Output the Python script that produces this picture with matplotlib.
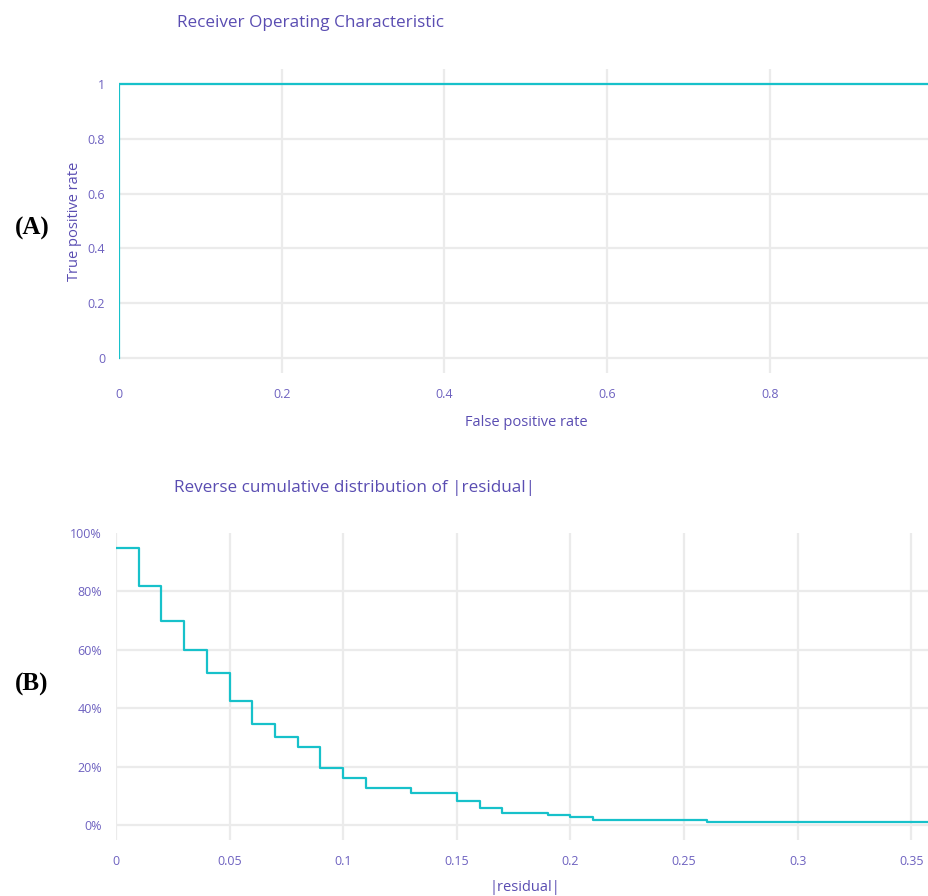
import matplotlib
matplotlib.use("Agg")
import matplotlib.pyplot as plt

W, H = 929, 896
plt.rcParams['font.family'] = ['Open Sans', 'DejaVu Sans']

# ---------------- data ----------------
roc_fpr = [0.0, 0.0, 1.0]
roc_tpr = [0.0, 1.0, 1.0]
roc_xticks = [0, 0.2, 0.4, 0.6, 0.8]
roc_yticks = [0, 0.2, 0.4, 0.6, 0.8, 1.0]
roc_ytick_labels = ["0", "0.2", "0.4", "0.6", "0.8", "1"]
roc_xtick_labels = ["0", "0.2", "0.4", "0.6", "0.8"]

resid_x = [0.0, 0.01, 0.02, 0.03, 0.04, 0.05, 0.06, 0.07, 0.08, 0.09, 0.10,
           0.11, 0.13, 0.15, 0.16, 0.17, 0.19, 0.20, 0.21, 0.26, 0.40]
resid_frac = [0.95, 0.82, 0.70, 0.60, 0.52, 0.425, 0.345, 0.30, 0.268, 0.195, 0.162,
              0.127, 0.11, 0.083, 0.058, 0.042, 0.035, 0.028, 0.018, 0.010, 0.010]
resid_xticks = [0, 0.05, 0.1, 0.15, 0.2, 0.25, 0.3, 0.35]
resid_xtick_labels = ["0", "0.05", "0.1", "0.15", "0.2", "0.25", "0.3", "0.35"]
resid_yticks = [0, 0.2, 0.4, 0.6, 0.8, 1.0]
resid_ytick_labels = ["0%", "20%", "40%", "60%", "80%", "100%"]

# ---------------- style ----------------
TEXT = "#5a4db2"
TICK = "#6e62c0"
LINE = "#17c1ca"
GRID = "#ebebeb"

fig = plt.figure(figsize=(W / 100, H / 100), dpi=100)

def ax_rect(l, t, r, b):
    return [l / W, 1 - b / H, (r - l) / W, (b - t) / H]

def style(ax):
    for s in ax.spines.values():
        s.set_visible(False)
    ax.tick_params(length=0, colors=TICK, labelsize=9)
    ax.grid(True, color=GRID, linewidth=1.6)
    ax.set_axisbelow(True)

# Panel A
axA = fig.add_axes(ax_rect(119, 69, 929, 373))
axA.plot(roc_fpr, roc_tpr, color=LINE, linewidth=1.6, zorder=3)
axA.set_xlim(0, 0.9954)
axA.set_ylim(-0.0547, 1.0547)
axA.set_xticks(roc_xticks)
axA.set_xticklabels(roc_xtick_labels)
axA.set_yticks(roc_yticks)
axA.set_yticklabels(roc_ytick_labels)
style(axA)
axA.tick_params(axis='x', pad=11)
axA.tick_params(axis='y', pad=10)
axA.xaxis.get_gridlines()[0].set_visible(False)

# Panel B
axB = fig.add_axes(ax_rect(116, 533, 929, 840))
axB.step(resid_x, resid_frac, where='post', color=LINE, linewidth=1.6, zorder=3)
axB.set_xlim(0, 0.3578)
axB.set_ylim(-0.0515, 1.0)
axB.set_xticks(resid_xticks)
axB.set_xticklabels(resid_xtick_labels)
axB.set_yticks(resid_yticks)
axB.set_yticklabels(resid_ytick_labels)
style(axB)
axB.tick_params(axis='x', pad=11)
axB.tick_params(axis='y', pad=10)
axB.yaxis.get_gridlines()[-1].set_visible(False)

def ftext(x, y, s, **kw):
    fig.text(x / W, 1 - y / H, s, **kw)

ftext(177, 23, "Receiver Operating Characteristic", color=TEXT, fontsize=12.3,
      ha='left', va='center')
ftext(174, 488, "Reverse cumulative distribution of |residual|", color=TEXT,
      fontsize=12.3, ha='left', va='center')
ftext(526, 422, "False positive rate", color=TEXT, fontsize=10.5, ha='center', va='center')
ftext(75, 221, "True positive rate", color=TEXT, fontsize=10.5, ha='center', va='center',
      rotation=90)
ftext(525, 887, "|residual|", color=TEXT, fontsize=10.5, ha='center', va='center')

ftext(32, 228, "(A)", family=['Liberation Serif', 'DejaVu Serif'], fontweight='bold',
      fontsize=18, ha='center', va='center', color='black')
ftext(32, 684, "(B)", family=['Liberation Serif', 'DejaVu Serif'], fontweight='bold',
      fontsize=18, ha='center', va='center', color='black')

fig.savefig("out.png", dpi=100)
